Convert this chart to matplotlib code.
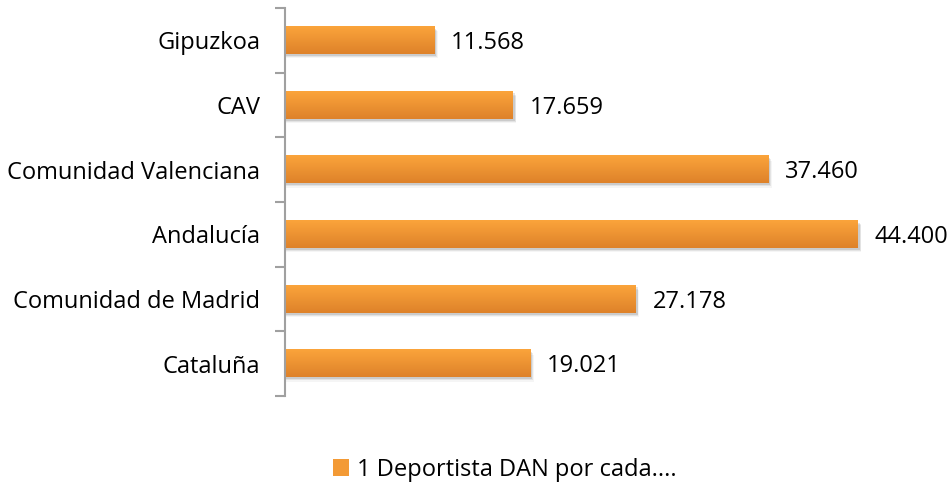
import matplotlib
matplotlib.use("Agg")
import matplotlib.pyplot as plt
import numpy as np
from matplotlib.colors import LinearSegmentedColormap
from matplotlib.patches import Rectangle

categories = ["Gipuzkoa", "CAV", "Comunidad Valenciana", "Andalucía", "Comunidad de Madrid", "Cataluña"]
values = [11568, 17659, 37460, 44400, 27178, 19021]
value_labels = ["11.568", "17.659", "37.460", "44.400", "27.178", "19.021"]
legend_label = "1 Deportista DAN por cada...."

plt.rcParams['font.family'] = ['Open Sans', 'DejaVu Sans']

fig = plt.figure(figsize=(9.52, 4.94), dpi=100)
ax = fig.add_axes([0.2994, 0.1984, 0.6776, 0.7854])

n = len(categories)
ypos = np.arange(n)
bh = 0.42
cmap = LinearSegmentedColormap.from_list("og", ["#FBA43B", "#DE822A"])
grad = np.linspace(0, 1, 64).reshape(-1, 1)

ax.set_xlim(0, 50000)
ax.set_ylim(n - 0.5, -0.5)

for y, v, lab in zip(ypos, values, value_labels):
    # shadow
    for k, a in enumerate([0.10, 0.07, 0.04]):
        ax.add_patch(Rectangle((0, y - bh / 2 + 0.03 + k * 0.02), v + 150 + k * 60, bh,
                               facecolor="black", alpha=a, edgecolor="none", zorder=1))
    ax.imshow(grad, cmap=cmap, aspect="auto", extent=(0, v, y + bh / 2, y - bh / 2),
              zorder=2, interpolation="bilinear")
    ax.text(v + 1300, y + 0.04, lab, va="center", ha="left", fontsize=17, color="#000000")

ax.set_xlim(0, 50000)
ax.set_ylim(n - 0.5, -0.5)

ax.set_yticks(ypos)
ax.set_yticklabels(categories, fontsize=17)
ax.set_yticks(np.arange(-0.5, n, 1), minor=True)
ax.tick_params(axis="y", which="major", length=0, pad=18)
ax.tick_params(axis="y", which="minor", length=7, width=1.5, color="#A0A0A0", direction="out")
ax.set_xticks([])
for s in ["top", "right", "bottom"]:
    ax.spines[s].set_visible(False)
ax.spines["left"].set_color("#A0A0A0")
ax.spines["left"].set_linewidth(1.5)

handle = Rectangle((0, 0), 1, 1, facecolor="#F39A35", edgecolor="none")
fig.legend([handle], [legend_label], loc="center", bbox_to_anchor=(0.53, 0.0486),
           frameon=False, fontsize=17, handlelength=0.7, handleheight=0.7, handletextpad=0.3)

fig.savefig("out.png", dpi=100)
